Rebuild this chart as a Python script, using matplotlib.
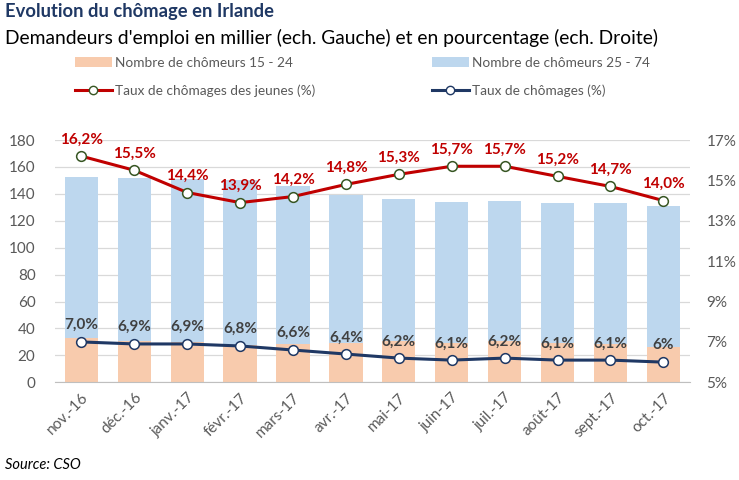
import matplotlib.pyplot as plt
from matplotlib.patches import Patch
from matplotlib.lines import Line2D

plt.rcParams['font.family'] = ['Lato', 'DejaVu Sans']

mois = ['nov.-16', 'déc.-16', 'janv.-17', 'févr.-17', 'mars-17', 'avr.-17',
        'mai-17', 'juin-17', 'juil.-17', 'août-17', 'sept.-17', 'oct.-17']
jeunes_15_24 = [33.1, 30.9, 30.2, 27.5, 28.2, 29.4, 30.7, 29.0, 30.7, 29.2, 28.2, 26.2]
total = [152.7, 151.8, 151.0, 150.0, 146.0, 139.0, 136.0, 134.0, 135.0, 133.0, 133.0, 131.0]
adultes_25_74 = [t - j for t, j in zip(total, jeunes_15_24)]
taux_jeunes = [16.2, 15.5, 14.4, 13.9, 14.2, 14.8, 15.3, 15.7, 15.7, 15.2, 14.7, 14.0]
taux = [7.0, 6.9, 6.9, 6.8, 6.6, 6.4, 6.2, 6.1, 6.2, 6.1, 6.1, 6.0]
labels_taux = ['7,0%', '6,9%', '6,9%', '6,8%', '6,6%', '6,4%', '6,2%', '6,1%', '6,2%', '6,1%', '6,1%', '6%']

peche = '#F8CBAD'
bleu_clair = '#BDD7EE'
rouge = '#C00000'
bleu_fonce = '#1F3864'
gris = '#595959'

fig = plt.figure(figsize=(7.39, 4.8), dpi=100)
ax = fig.add_axes([0.0744, 0.2035, 0.859, 0.5048])
x = range(len(mois))

ax.bar(x, jeunes_15_24, width=0.63, color=peche, zorder=2)
ax.bar(x, adultes_25_74, width=0.63, bottom=jeunes_15_24, color=bleu_clair, zorder=2)
ax.set_ylim(0, 180)
ax.set_yticks(range(0, 181, 20))
ax.set_xlim(-0.5, len(mois) - 0.5)
ax.grid(axis='y', color='#D9D9D9', linewidth=0.9, zorder=0)
ax.set_axisbelow(True)
ax.set_xticks(list(x))
ax.set_xticklabels(mois, rotation=45, ha='right', rotation_mode='anchor', fontsize=10.5, color=gris)
ax.tick_params(axis='both', length=0, colors=gris, labelsize=11)
ax.tick_params(axis='x', pad=6)
ax.tick_params(axis='y', pad=14)
for s in ['top', 'left', 'right']:
    ax.spines[s].set_visible(False)
ax.spines['bottom'].set_color('#BFBFBF')

ax2 = ax.twinx()
ax2.set_ylim(5, 17)
ax2.set_yticks(range(5, 18, 2))
ax2.set_yticklabels([f'{v}%' for v in range(5, 18, 2)])
ax2.tick_params(axis='y', length=0, colors=gris, labelsize=11, pad=12)
for s in ax2.spines.values():
    s.set_visible(False)

ax2.plot(x, taux_jeunes, color=rouge, linewidth=2.2, marker='o', markersize=7,
         markerfacecolor='white', markeredgecolor='#375623', markeredgewidth=1.1, zorder=3)
ax2.plot(x, taux, color=bleu_fonce, linewidth=2.2, marker='o', markersize=7,
         markerfacecolor='white', markeredgecolor=bleu_fonce, markeredgewidth=1.1, zorder=3)

for i, v in enumerate(taux_jeunes):
    ax2.annotate(f'{v:.1f}%'.replace('.', ','), (i, v), xytext=(0, 7), textcoords='offset points',
                 ha='center', va='bottom', color=rouge, fontsize=11, fontweight='bold')
for i, v in enumerate(taux):
    ax2.annotate(labels_taux[i], (i, v), xytext=(0, 7), textcoords='offset points',
                 ha='center', va='bottom', color='#404040', fontsize=11, fontweight='bold')

fig.text(0.007, 0.975, 'Evolution du chômage en Irlande', fontsize=13.2, fontweight='bold',
         color=bleu_fonce, va='center')
fig.text(0.007, 0.921, "Demandeurs d'emploi en millier (ech. Gauche) et en pourcentage (ech. Droite)",
         fontsize=13.9, color='black', va='center')
fig.text(0.007, 0.031, 'Source: CSO', fontsize=10.5, style='italic', color='black', va='center')

col1 = [
    Patch(facecolor=peche, label='Nombre de chômeurs 15 - 24'),
    Line2D([], [], color=rouge, linewidth=2.2, marker='o', markersize=6, markerfacecolor='white',
           markeredgecolor='#375623', label='Taux de chômages des jeunes (%)'),
]
col2 = [
    Patch(facecolor=bleu_clair, label='Nombre de chômeurs 25 - 74'),
    Line2D([], [], color=bleu_fonce, linewidth=2.2, marker='o', markersize=6, markerfacecolor='white',
           markeredgecolor=bleu_fonce, label='Taux de chômages (%)'),
]
for handles, x0 in [(col1, 75 / 739), (col2, 432 / 739)]:
    leg = fig.legend(handles=handles, loc='upper left', bbox_to_anchor=(x0, 1 - 57 / 480),
                     frameon=False, fontsize=9.8, handlelength=2.7, handletextpad=0.25,
                     labelspacing=1.1, borderpad=0, borderaxespad=0)
    for t in leg.get_texts():
        t.set_color(gris)

fig.savefig('out.png', dpi=100)
